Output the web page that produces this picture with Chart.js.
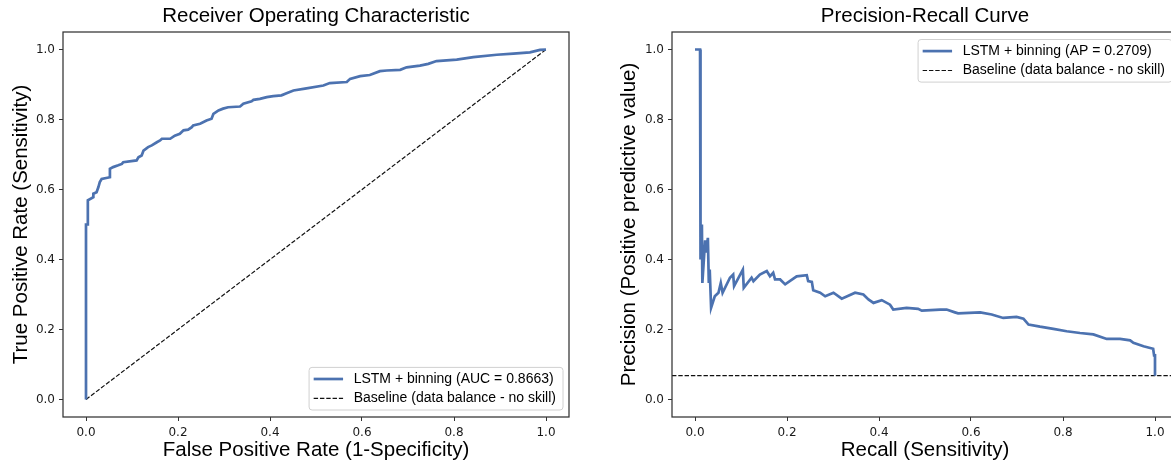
<!DOCTYPE html>
<html>
<head>
<meta charset="utf-8">
<script src="https://cdn.jsdelivr.net/npm/chart.js@4.4.1/dist/chart.umd.min.js"></script>
<style>
  html, body { margin: 0; padding: 0; background: #fff; overflow: hidden; }
  #wrap { position: relative; width: 1171px; height: 461px; overflow: hidden; }
  .pane { position: absolute; top: 0; }
  #roc-pane { left: 0; }
  #pr-pane { left: 590px; }
</style>
</head>
<body>
<div id="wrap">
  <div class="pane" id="roc-pane"><canvas id="roc" width="590" height="461"></canvas></div>
  <div class="pane" id="pr-pane"><canvas id="pr" width="600" height="461"></canvas></div>
</div>
<script>
/* ROC + precision-recall panels. */

const axisTicks = [0, 0.2, 0.4, 0.6, 0.8, 1.0];

// ROC curve (false positive rate / true positive rate)
const rocFpr = [0, 0, 0.004, 0.004, 0.016, 0.016, 0.023, 0.027, 0.030, 0.034, 0.052, 0.052,
  0.059, 0.070, 0.078, 0.081, 0.110, 0.114, 0.121, 0.125, 0.135, 0.143, 0.154, 0.161, 0.165,
  0.183, 0.193, 0.204, 0.212, 0.222, 0.230, 0.233, 0.248, 0.262, 0.273, 0.277, 0.288, 0.298,
  0.309, 0.335, 0.342, 0.360, 0.364, 0.378, 0.393, 0.407, 0.425, 0.436, 0.451, 0.476, 0.516,
  0.530, 0.567, 0.574, 0.596, 0.617, 0.639, 0.654, 0.683, 0.697, 0.726, 0.744, 0.762, 0.806,
  0.842, 0.893, 0.929, 0.965, 0.987, 1.0];
const rocTpr = [0, 0.500, 0.500, 0.569, 0.578, 0.588, 0.592, 0.607, 0.621, 0.630, 0.635, 0.659,
  0.664, 0.669, 0.673, 0.678, 0.683, 0.692, 0.697, 0.711, 0.721, 0.726, 0.735, 0.740, 0.745,
  0.745, 0.754, 0.759, 0.769, 0.771, 0.778, 0.783, 0.788, 0.797, 0.802, 0.816, 0.826, 0.831,
  0.835, 0.837, 0.845, 0.852, 0.856, 0.859, 0.864, 0.867, 0.869, 0.875, 0.883, 0.888, 0.897,
  0.904, 0.907, 0.916, 0.924, 0.927, 0.938, 0.940, 0.942, 0.949, 0.954, 0.959, 0.967, 0.971,
  0.978, 0.985, 0.988, 0.992, 0.999, 1.0];
const rocBaseX = [0, 1];
const rocBaseY = [0, 1];

// Precision-recall curve
const prRecall = [0.0, 0.011, 0.011, 0.013, 0.015, 0.016, 0.022, 0.024, 0.028, 0.030, 0.032,
  0.035, 0.043, 0.051, 0.056, 0.060, 0.076, 0.083, 0.085, 0.104, 0.106, 0.123, 0.127, 0.141,
  0.156, 0.163, 0.170, 0.174, 0.185, 0.196, 0.221, 0.243, 0.246, 0.254, 0.257, 0.272, 0.283,
  0.301, 0.319, 0.348, 0.366, 0.377, 0.388, 0.406, 0.424, 0.431, 0.460, 0.485, 0.493, 0.533,
  0.547, 0.565, 0.572, 0.620, 0.645, 0.670, 0.699, 0.714, 0.725, 0.750, 0.779, 0.808, 0.837,
  0.866, 0.895, 0.924, 0.946, 0.953, 0.975, 0.996, 0.998, 1.0, 1.0];
const prPrecision = [1.0, 1.0, 0.400, 0.400, 0.500, 0.333, 0.455, 0.420, 0.462, 0.333, 0.371,
  0.262, 0.295, 0.305, 0.333, 0.305, 0.348, 0.357, 0.324, 0.371, 0.319, 0.348, 0.338, 0.357,
  0.367, 0.352, 0.362, 0.343, 0.343, 0.329, 0.352, 0.355, 0.338, 0.336, 0.312, 0.305, 0.295,
  0.305, 0.288, 0.305, 0.300, 0.286, 0.276, 0.284, 0.271, 0.257, 0.262, 0.259, 0.254, 0.257,
  0.257, 0.249, 0.246, 0.249, 0.243, 0.233, 0.236, 0.231, 0.214, 0.208, 0.202, 0.195, 0.190,
  0.186, 0.173, 0.173, 0.169, 0.162, 0.152, 0.145, 0.126, 0.126, 0.068];
const prBaseX = [-0.05, 1.05];
const prBaseY = [0.068, 0.068];

const SANS = '"Liberation Sans", Arial, Helvetica, sans-serif';
const TICK_FONT = '"DejaVu Sans", sans-serif';
const BLUE = '#4C72B0';

const pts = (xs, ys) => xs.map((x, i) => ({ x, y: ys[i] }));

// axes spines on all four sides
const frame = {
  id: 'frame',
  afterDatasetsDraw(chart) {
    const { ctx, chartArea: a } = chart;
    ctx.save();
    ctx.strokeStyle = '#333';
    ctx.lineWidth = 1.25;
    ctx.strokeRect(a.left, a.top, a.right - a.left, a.bottom - a.top);
    ctx.restore();
  },
};

// matplotlib-style legend box sitting inside the plot area
const innerLegend = {
  id: 'innerLegend',
  afterDraw(chart, args, opts) {
    const { ctx, chartArea: a } = chart;
    const sets = chart.data.datasets;
    ctx.save();
    ctx.font = '14px ' + SANS;
    const textW = Math.max(...sets.map((d) => ctx.measureText(d.label).width));
    const padL = 4.6, handle = 29.4, gap = 10.6, padR = 7, rowH = 19.4, padT = 11.6;
    const w = padL + handle + gap + textW + padR;
    const h = padT * 2 + rowH * (sets.length - 1);
    const x = a.right - 6 - w;
    const y = opts.corner === 'top' ? a.top + 7.5 : a.bottom - 7 - h;

    ctx.beginPath();
    ctx.roundRect(x, y, w, h, 3);
    ctx.fillStyle = 'rgba(255,255,255,0.8)';
    ctx.fill();
    ctx.strokeStyle = '#d0d0d0';
    ctx.lineWidth = 1;
    ctx.stroke();

    sets.forEach((d, i) => {
      const cy = y + padT + i * rowH;
      ctx.beginPath();
      ctx.setLineDash(d.borderDash || []);
      ctx.strokeStyle = d.borderColor;
      ctx.lineWidth = d.borderWidth;
      ctx.moveTo(x + padL, cy);
      ctx.lineTo(x + padL + handle, cy);
      ctx.stroke();
      ctx.setLineDash([]);
      ctx.fillStyle = '#000';
      ctx.textBaseline = 'middle';
      ctx.textAlign = 'left';
      ctx.fillText(d.label, x + padL + handle + gap, cy);
    });
    ctx.restore();
  },
};

function axis(titleText, titlePad, fit) {
  return {
    type: 'linear',
    min: -0.05,
    max: 1.05,
    afterBuildTicks: (s) => { s.ticks = axisTicks.map((v) => ({ value: v })); },
    afterFit: fit,
    border: { display: false },
    grid: { drawOnChartArea: false, drawTicks: true, tickLength: 4, tickColor: '#333', tickWidth: 1 },
    ticks: {
      font: { family: TICK_FONT, size: 12 },
      color: '#1a1a1a',
      padding: 4,
      callback: (v) => Number(v).toFixed(1),
    },
    title: {
      display: true,
      text: titleText,
      color: '#000',
      font: { family: SANS, size: 20.5, lineHeight: 1.2 },
      padding: titlePad,
    },
  };
}

function panel(canvasId, c) {
  const x = axis(c.xTitle, { top: 0, bottom: -2 }, (s) => { s.height = 44; });
  x.ticks.padding = 5;
  const y = axis(c.yTitle, { top: c.yTitlePad, bottom: 0 }, (s) => { s.width = c.yAxisWidth; });
  return new Chart(document.getElementById(canvasId), {
    type: 'line',
    data: { datasets: c.datasets },
    options: {
      responsive: false,
      animation: false,
      events: [],
      layout: { padding: { left: 0, right: c.padRight, top: 0, bottom: 0 } },
      elements: { point: { radius: 0 }, line: { tension: 0 } },
      plugins: {
        legend: { display: false },
        tooltip: { enabled: false },
        title: {
          display: true,
          text: c.title,
          fullSize: false,
          color: '#000',
          font: { family: SANS, size: 20.5, weight: 'normal', lineHeight: 1.2 },
          padding: { top: 4.5, bottom: 2.9 },
        },
        innerLegend: { corner: c.legendCorner },
      },
      scales: { x, y },
    },
    plugins: [frame, innerLegend],
  });
}

panel('roc', {
  title: 'Receiver Operating Characteristic',
  xTitle: 'False Positive Rate (1-Specificity)',
  yTitle: 'True Positive Rate (Sensitivity)',
  yAxisWidth: 63,
  yTitlePad: 9,
  padRight: 21,
  legendCorner: 'bottom',
  datasets: [
    { label: 'LSTM + binning (AUC = 0.8663)', data: pts(rocFpr, rocTpr),
      borderColor: BLUE, borderWidth: 2.7, fill: false },
    { label: 'Baseline (data balance - no skill)', data: pts(rocBaseX, rocBaseY),
      borderColor: '#111', borderWidth: 1.2, borderDash: [4.4, 1.9], fill: false },
  ],
});

panel('pr', {
  title: 'Precision-Recall Curve',
  xTitle: 'Recall (Sensitivity)',
  yTitle: 'Precision (Positive predictive value)',
  yAxisWidth: 82,
  yTitlePad: 27.4,
  padRight: 12,
  legendCorner: 'top',
  datasets: [
    { label: 'LSTM + binning (AP = 0.2709)', data: pts(prRecall, prPrecision),
      borderColor: BLUE, borderWidth: 2.7, fill: false },
    { label: 'Baseline (data balance - no skill)', data: pts(prBaseX, prBaseY),
      borderColor: '#111', borderWidth: 1.2, borderDash: [4.4, 1.9], fill: false },
  ],
});
</script>
</body>
</html>
